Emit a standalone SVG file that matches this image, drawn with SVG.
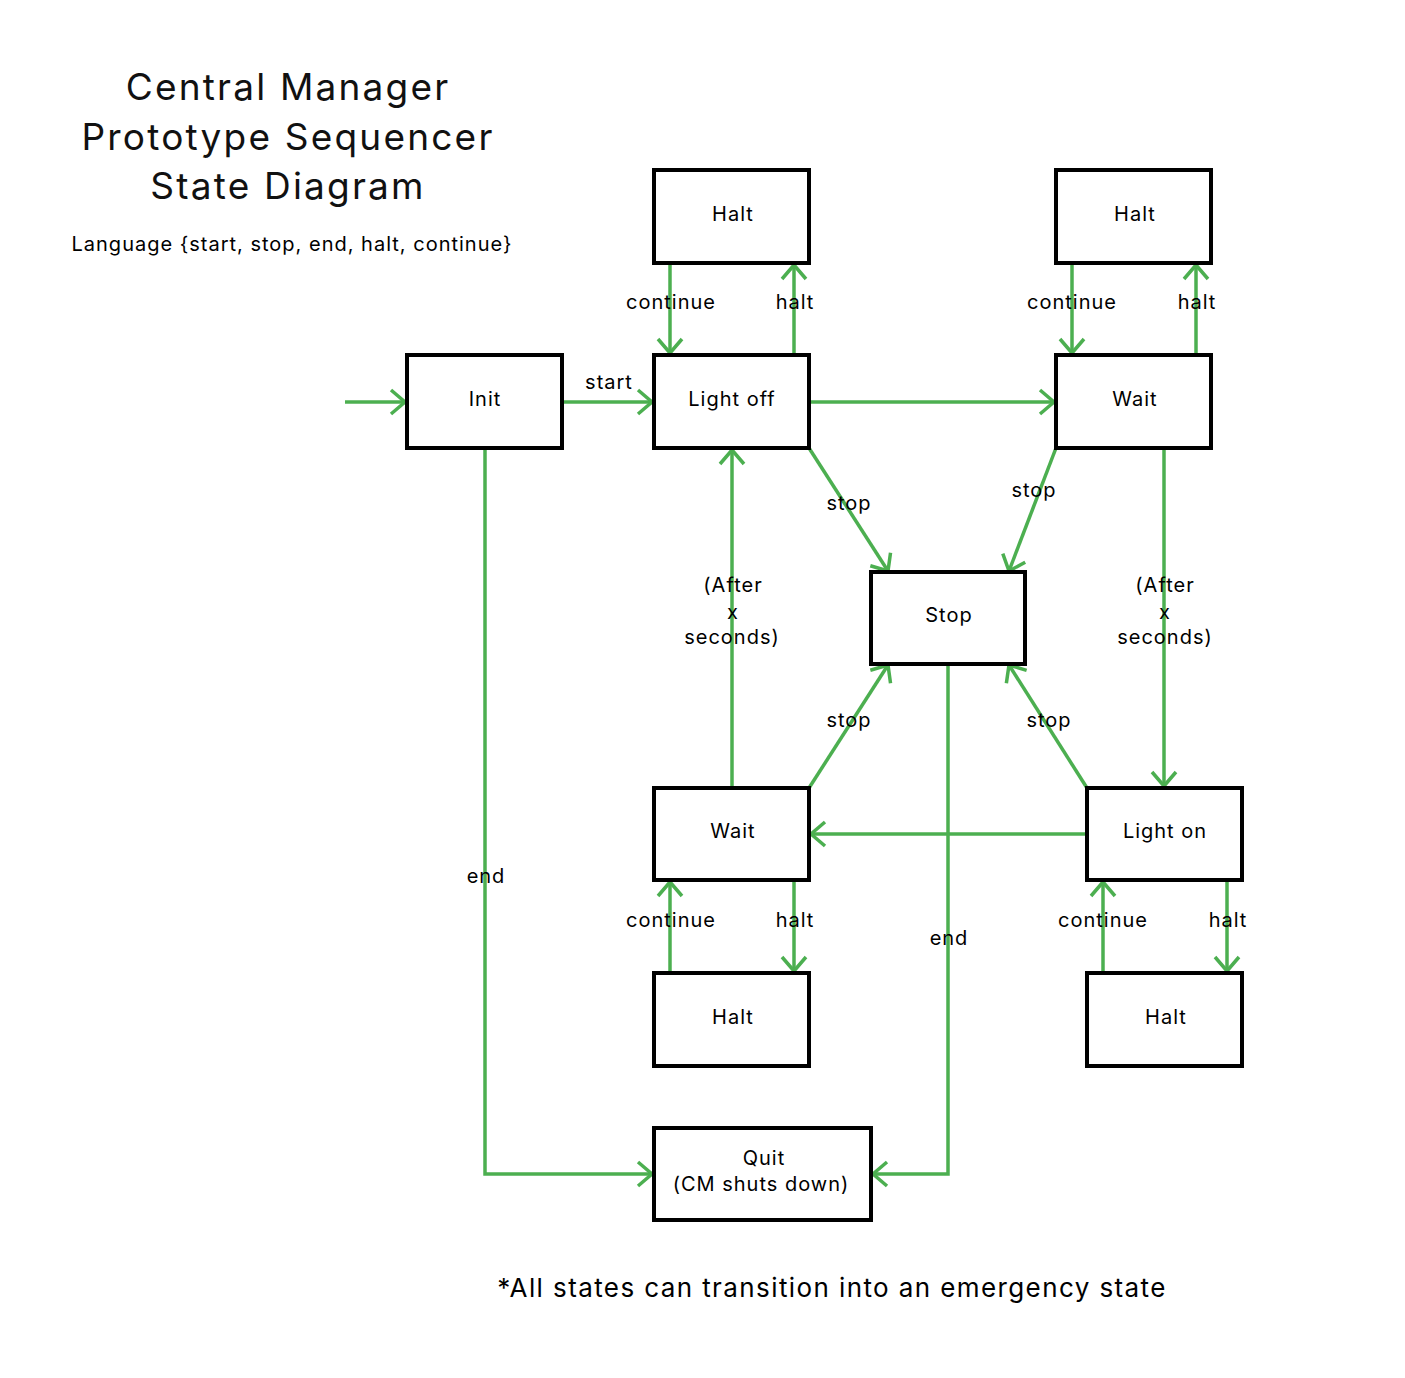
<svg xmlns="http://www.w3.org/2000/svg" width="1405" height="1378" viewBox="0 0 1405 1378">
<defs>
<style>
.box{fill:#fff;stroke:#000;stroke-width:4}
.t{font-family:Inter,"Liberation Sans",sans-serif;font-size:20px;fill:#000;text-anchor:middle;letter-spacing:1px}
.title{font-family:Inter,"Liberation Sans",sans-serif;font-size:37px;fill:#111;text-anchor:middle;letter-spacing:2.2px}
.c{fill:none;stroke:#4caf50;stroke-width:3.5}
</style>
<marker id="a" markerUnits="userSpaceOnUse" markerWidth="30" markerHeight="30" viewBox="-16 -15 20 30" refX="0" refY="0" orient="auto">
<path d="M-14,-12 L0,0 L-14,12" fill="none" stroke="#4caf50" stroke-width="3.5"/>
</marker>
</defs>
<rect width="1405" height="1378" fill="#fff"/>
<g id="title">
<text class="title" x="288" y="100">Central Manager</text>
<text class="title" x="288" y="150">Prototype Sequencer</text>
<text class="title" x="288" y="199">State Diagram</text>
<text class="t" x="292" y="251">Language {start, stop, end, halt, continue}</text>
</g>
<g id="connectors">
<path class="c" d="M345,402 H405" marker-end="url(#a)"/>
<path class="c" d="M562,402 H652" marker-end="url(#a)"/>
<path class="c" d="M809,402 H1054" marker-end="url(#a)"/>
<path class="c" d="M670,263 V353" marker-end="url(#a)"/>
<path class="c" d="M794,355 V265" marker-end="url(#a)"/>
<path class="c" d="M1072,263 V353" marker-end="url(#a)"/>
<path class="c" d="M1196,355 V265" marker-end="url(#a)"/>
<path class="c" d="M809,448 L888,571" marker-end="url(#a)"/>
<path class="c" d="M1056,448 L1009,571" marker-end="url(#a)"/>
<path class="c" d="M732,788 V450" marker-end="url(#a)"/>
<path class="c" d="M1164,448 V786" marker-end="url(#a)"/>
<path class="c" d="M809,788 L888,665" marker-end="url(#a)"/>
<path class="c" d="M1087,788 L1009,665" marker-end="url(#a)"/>
<path class="c" d="M1087,834 H811" marker-end="url(#a)"/>
<path class="c" d="M670,973 V882" marker-end="url(#a)"/>
<path class="c" d="M794,880 V971" marker-end="url(#a)"/>
<path class="c" d="M1103,973 V882" marker-end="url(#a)"/>
<path class="c" d="M1227,880 V971" marker-end="url(#a)"/>
<path class="c" d="M485,448 V1174 H652" marker-end="url(#a)"/>
<path class="c" d="M948,664 V1174 H873" marker-end="url(#a)"/>
</g>
<g id="n-init"><rect class="box" x="407" y="355" width="155" height="93"/><text class="t" x="485" y="406">Init</text></g>
<g id="n-lightoff"><rect class="box" x="654" y="355" width="155" height="93"/><text class="t" x="732" y="406">Light off</text></g>
<g id="n-halt1"><rect class="box" x="654" y="170" width="155" height="93"/><text class="t" x="733" y="221">Halt</text></g>
<g id="n-halt2"><rect class="box" x="1056" y="170" width="155" height="93"/><text class="t" x="1135" y="221">Halt</text></g>
<g id="n-wait1"><rect class="box" x="1056" y="355" width="155" height="93"/><text class="t" x="1135" y="406">Wait</text></g>
<g id="n-stop"><rect class="box" x="871" y="572" width="154" height="92"/><text class="t" x="949" y="622">Stop</text></g>
<g id="n-wait2"><rect class="box" x="654" y="788" width="155" height="92"/><text class="t" x="733" y="838">Wait</text></g>
<g id="n-lighton"><rect class="box" x="1087" y="788" width="155" height="92"/><text class="t" x="1165" y="838">Light on</text></g>
<g id="n-halt3"><rect class="box" x="654" y="973" width="155" height="93"/><text class="t" x="733" y="1024">Halt</text></g>
<g id="n-halt4"><rect class="box" x="1087" y="973" width="155" height="93"/><text class="t" x="1166" y="1024">Halt</text></g>
<g id="n-quit"><rect class="box" x="654" y="1128" width="217" height="92"/><text class="t" x="764" y="1165">Quit</text><text class="t" x="761" y="1191">(CM shuts down)</text></g>
<g id="labels">
<text class="t" x="609" y="389">start</text>
<text class="t" x="671" y="309">continue</text>
<text class="t" x="795" y="309">halt</text>
<text class="t" x="1072" y="309">continue</text>
<text class="t" x="1197" y="309">halt</text>
<text class="t" x="849" y="510">stop</text>
<text class="t" x="1034" y="497">stop</text>
<text class="t" x="733" y="592">(After</text>
<text class="t" x="733" y="619">x</text>
<text class="t" x="732" y="644">seconds)</text>
<text class="t" x="1165" y="592">(After</text>
<text class="t" x="1165" y="619">x</text>
<text class="t" x="1165" y="644">seconds)</text>
<text class="t" x="849" y="727">stop</text>
<text class="t" x="1049" y="727">stop</text>
<text class="t" x="671" y="927">continue</text>
<text class="t" x="795" y="927">halt</text>
<text class="t" x="1103" y="927">continue</text>
<text class="t" x="1228" y="927">halt</text>
<text class="t" x="486" y="883">end</text>
<text class="t" x="949" y="945">end</text>
<text class="t" x="832" y="1297" style="font-size:26px;letter-spacing:1.4px">*All states can transition into an emergency state</text>
</g>
</svg>
